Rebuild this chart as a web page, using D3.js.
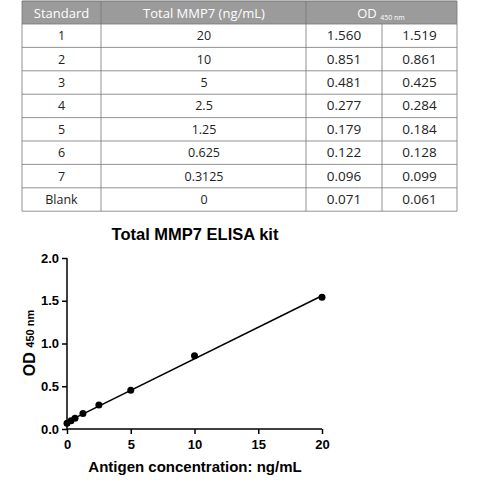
<!DOCTYPE html>
<html><head><meta charset="utf-8">
<script src="https://cdn.jsdelivr.net/npm/d3@7"></script>
<style>body{margin:0;background:#fff}</style></head>
<body><svg id="c" width="480" height="480"></svg>
<script>
const standards=["1","2","3","4","5","6","7","Blank"];
const conc=[20,10,5,2.5,1.25,0.625,0.3125,0];
const concLabels=["20","10","5","2.5","1.25","0.625","0.3125","0"];
const od1=[1.560,0.851,0.481,0.277,0.179,0.122,0.096,0.071];
const od2=[1.519,0.861,0.425,0.284,0.184,0.128,0.099,0.061];
const xTicks=[0,5,10,15,20];
const yTicks=[0,0.5,1.0,1.5,2.0];

const svg=d3.select("#c");
const cols=[22,101,306,382,457];
const tTop=1,hh=23,rh=23.4;
const tf="'Open Sans',sans-serif";
svg.append("rect").attr("x",22).attr("y",tTop).attr("width",435).attr("height",hh).attr("fill","#9b9b9b");
[["Standard",61.5],["Total MMP7 (ng/mL)",204]].forEach(([t,x])=>svg.append("text").attr("x",x).attr("y",tTop+16.5).attr("text-anchor","middle").attr("fill","#fff").attr("font-family",tf).attr("font-size",13).text(t));
const odh=svg.append("text").attr("x",381).attr("y",tTop+16.5).attr("text-anchor","middle").attr("fill","#fff").attr("font-family",tf).attr("font-size",13);
odh.append("tspan").text("OD ");odh.append("tspan").attr("font-size",7).attr("dy",2).text("450 nm");
const tb=tTop+hh, n=standards.length, bottom=tb+rh*n;
const g=svg.append("g");
for(let i=0;i<=n;i++){g.append("line").attr("x1",22).attr("x2",457).attr("y1",tb+rh*i).attr("y2",tb+rh*i).attr("stroke","#777").attr("stroke-width",0.8);}
g.append("line").attr("x1",22).attr("x2",457).attr("y1",tTop).attr("y2",tTop).attr("stroke","#777");
cols.forEach((x,j)=>g.append("line").attr("x1",x).attr("x2",x).attr("y1",j==3?tb:tTop).attr("y2",bottom).attr("stroke","#777").attr("stroke-width",0.8));
standards.forEach((s,i)=>{
  const y=tb+rh*i+rh/2+4.5;
  [[s,61.5,12.5],[concLabels[i],204,12.5],[od1[i].toFixed(3),344,13.5],[od2[i].toFixed(3),419.5,13.5]].forEach(([t,x,fs])=>
    svg.append("text").attr("x",x).attr("y",y).attr("text-anchor","middle").attr("font-family",tf).attr("font-size",fs).attr("fill","#222").text(t));
});

const x=d3.scaleLinear().domain([0,20]).range([67,322]);
const y=d3.scaleLinear().domain([0,2]).range([429,258]);
const af="Arial, 'Liberation Sans', sans-serif";
const ax=svg.append("g").attr("transform","translate(0,429)").call(d3.axisBottom(x).tickValues(xTicks).tickSize(5).tickFormat(d3.format("d")));
const ay=svg.append("g").attr("transform","translate(67,0)").call(d3.axisLeft(y).tickValues(yTicks).tickSize(5).tickFormat(d3.format(".1f")));
[ax,ay].forEach(a=>{a.selectAll("path,line").attr("stroke","#000").attr("stroke-width",1.5);a.selectAll("text").attr("font-family",af).attr("font-size",13).attr("font-weight","bold").attr("fill","#000");});
ax.select(".domain").attr("d","M67,0H322");
ay.select(".domain").attr("d","M0,429V258");
ax.selectAll("text").attr("dy","0.9em");
const pts=conc.flatMap((c,i)=>[[c,od1[i]],[c,od2[i]]]);
const mx=d3.mean(pts,d=>d[0]),my=d3.mean(pts,d=>d[1]);
const b=d3.sum(pts,d=>(d[0]-mx)*(d[1]-my))/d3.sum(pts,d=>(d[0]-mx)**2),a0=my-b*mx;
svg.append("line").attr("x1",x(0)).attr("y1",y(a0)).attr("x2",x(20)).attr("y2",y(a0+b*20)).attr("stroke","#000").attr("stroke-width",1.5);
svg.selectAll("circle").data(conc).join("circle").attr("cx",d=>x(d)).attr("cy",(d,i)=>y((od1[i]+od2[i])/2)).attr("r",3.5).attr("fill","#000");
svg.append("text").attr("x",195).attr("y",240).attr("text-anchor","middle").attr("font-family",af).attr("font-weight","bold").attr("font-size",16.5).text("Total MMP7 ELISA kit");
svg.append("text").attr("x",195).attr("y",472).attr("text-anchor","middle").attr("font-family",af).attr("font-weight","bold").attr("font-size",15).text("Antigen concentration: ng/mL");
const yt=svg.append("text").attr("transform","translate(35,343) rotate(-90)").attr("text-anchor","middle").attr("font-family",af).attr("font-weight","bold").attr("font-size",16);
yt.append("tspan").text("OD ");yt.append("tspan").attr("font-size",11).attr("dy",-1).text("450 nm");
</script></body></html>
